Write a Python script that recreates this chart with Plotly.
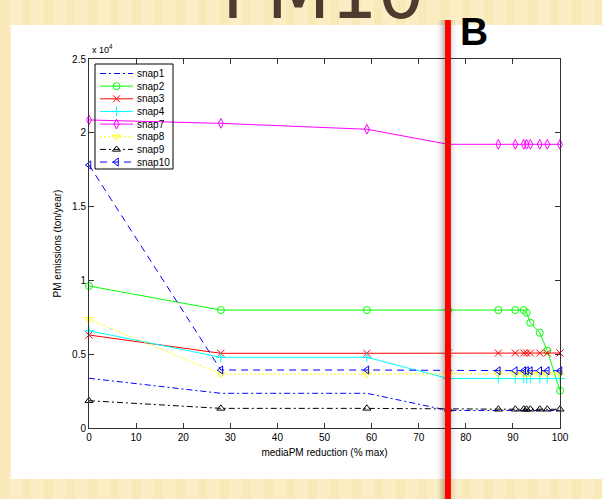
import plotly.graph_objects as go

# Scenario positions on the reduction axis (% of max)
reduction = [0, 28, 59, 76.3, 86.9, 90.5, 92.3, 92.9, 93.7, 95.7, 97.3, 100]

# PM emissions per SNAP sector (ton/year)
snap1 = [3370, 2350, 2350, 1190, 1190, 1190, 1190, 1190, 1190, 1190, 1190, 1190]
snap2 = [9620, 7990, 7990, 7990, 7990, 7990, 7990, 7810, 7130, 6450, 5240, 2530]
snap3 = [6300, 5060, 5060, 5080, 5080, 5080, 5080, 5080, 5080, 5080, 5080, 5080]
snap4 = [6590, 4790, 4790, 3350, 3350, 3350, 3350, 3350, 3350, 3350, 3350, 3350]
snap7 = [20870, 20640, 20240, 19220, 19220, 19220, 19220, 19220, 19220, 19220, 19220, 19220]
snap8 = [7360, 3660, 3660, 3660, 3660, 3660, 3660, 3660, 3660, 3660, 3660, 3660]
snap9 = [1850, 1330, 1330, 1270, 1270, 1270, 1270, 1270, 1270, 1270, 1270, 1270]
snap10 = [17820, 3930, 3930, 3880, 3880, 3880, 3880, 3880, 3880, 3880, 3880, 3880]

series_names = ["snap1", "snap2", "snap3", "snap4", "snap7", "snap8", "snap9", "snap10"]
series_values = [snap1, snap2, snap3, snap4, snap7, snap8, snap9, snap10]

x_ticks = [0, 10, 20, 30, 40, 50, 60, 70, 80, 90, 100]
y_ticks = [0, 5000, 10000, 15000, 20000, 25000]
y_tick_labels = ["0", "0.5", "1", "1.5", "2", "2.5"]

marked_reduction = 76.2

# line/marker style for each sector
styles = {
    "snap1": dict(color="#0000FF", dash="6px,3px,2px,3px", symbol=None),
    "snap2": dict(color="#00FF00", dash="solid", symbol="circle-open"),
    "snap3": dict(color="#FF0000", dash="solid", symbol="x-thin-open"),
    "snap4": dict(color="#00FFFF", dash="solid", symbol="cross-thin-open"),
    "snap7": dict(color="#FF00FF", dash="solid", symbol="diamond-tall-open"),
    "snap8": dict(color="#FFFF00", dash="2px,2px", symbol="triangle-down-open"),
    "snap9": dict(color="#000000", dash="6px,3px,2px,3px", symbol="triangle-up-open"),
    "snap10": dict(color="#0000FF", dash="7px,5px", symbol="triangle-left-open"),
}

W, H = 602, 499
L, R, T, B = 89, 42, 59, 71
pw, ph = W - L - R, H - T - B


def fx(px):
    return (px - L) / pw


def fy(py):
    return (H - B - py) / ph


FONT = "Liberation Sans, Arial, sans-serif"

fig = go.Figure()

for name, vals in zip(series_names, series_values):
    st = styles[name]
    mode = "lines+markers" if st["symbol"] else "lines"
    marker = dict(symbol=st["symbol"], size=7, color=st["color"],
                  line=dict(color=st["color"], width=1)) if st["symbol"] else None
    fig.add_trace(go.Scatter(
        x=reduction, y=vals, mode=mode, name=name,
        line=dict(color=st["color"], width=1, dash=st["dash"]),
        marker=marker, cliponaxis=False, showlegend=False,
    ))

# hand-built legend in an overlay 0..1 coordinate frame
shapes = []
annotations = []
row0, row_gap = 73.5, 12.65
for i, name in enumerate(series_names):
    st = styles[name]
    yy = fy(row0 + i * row_gap)
    fig.add_trace(go.Scatter(
        x=[fx(100), fx(116.5), fx(133)], y=[yy, yy, yy],
        xaxis="x2", yaxis="y2",
        mode="lines+markers" if st["symbol"] else "lines",
        line=dict(color=st["color"], width=1, dash=st["dash"]),
        marker=dict(symbol=st["symbol"], size=7, color=st["color"],
                    line=dict(color=st["color"], width=1),
                    opacity=[0, 1, 0]) if st["symbol"] else None,
        cliponaxis=False, showlegend=False, hoverinfo="skip",
    ))
    annotations.append(dict(
        x=fx(135), y=yy, xref="paper", yref="paper", text=name,
        showarrow=False, xanchor="left", yanchor="middle",
        font=dict(family=FONT, size=10, color="#000000"),
    ))

# faint vertical stripes of the slide background
for sx in range(0, 610, 22):
    shapes.append(dict(type="rect", xref="paper", yref="paper",
                       x0=fx(sx), x1=fx(sx + 9), y0=fy(H), y1=fy(0),
                       fillcolor="#F3DFA6", opacity=0.35, line=dict(width=0),
                       layer="below"))
# white panel behind the axes
shapes.append(dict(type="rect", xref="paper", yref="paper",
                   x0=fx(11), x1=fx(605), y0=fy(479), y1=fy(25),
                   fillcolor="white", line=dict(width=0), layer="below"))

# legend frame
shapes.append(dict(type="rect", xref="paper", yref="paper",
                   x0=fx(95), x1=fx(173), y0=fy(169), y1=fy(64),
                   fillcolor="rgba(0,0,0,0)", line=dict(color="#000000", width=1),
                   layer="above"))

# marker line with soft shadow
for w, op in [(18, 0.05), (12, 0.07), (8, 0.09)]:
    shapes.append(dict(type="line", xref="x", yref="paper",
                       x0=marked_reduction - 0.3, x1=marked_reduction - 0.3,
                       y0=fy(H + 5), y1=fy(20),
                       line=dict(color=f"rgba(0,0,0,{op})", width=w), layer="above"))
shapes.append(dict(type="line", xref="x", yref="paper",
                   x0=marked_reduction, x1=marked_reduction,
                   y0=fy(H + 5), y1=fy(20),
                   line=dict(color="#FF0000", width=6), layer="above"))

# slide title and panel letter
annotations.append(dict(
    x=fx(323), y=fy(37), xref="paper", yref="paper", text="PM10",
    showarrow=False, xanchor="center", yanchor="bottom",
    font=dict(family="DejaVu Sans, sans-serif", size=74, color="#4D3B2F"),
))
annotations.append(dict(
    x=fx(474), y=fy(32), xref="paper", yref="paper", text="<b>B</b>",
    showarrow=False, xanchor="center", yanchor="middle",
    font=dict(family=FONT, size=39, color="#000000"),
))
# axis exponent
annotations.append(dict(
    x=fx(90), y=fy(49), xref="paper", yref="paper", text="x 10<sup>4</sup>",
    showarrow=False, xanchor="left", yanchor="middle",
    font=dict(family=FONT, size=9, color="#000000"),
))

axis_common = dict(
    showgrid=False, zeroline=False, showline=True, linecolor="#333333",
    linewidth=1, mirror="allticks", ticks="inside", ticklen=5,
    tickcolor="#333333", tickfont=dict(family=FONT, size=10, color="#000000"),
)

fig.update_layout(
    width=W, height=H,
    margin=dict(l=L, r=R, t=T, b=B, pad=0),
    paper_bgcolor="#FCEEC4",
    plot_bgcolor="rgba(0,0,0,0)",
    showlegend=False,
    xaxis=dict(range=[0, 100], tickvals=x_ticks, **axis_common,
               title=dict(text="mediaPM reduction (% max)", standoff=6,
                          font=dict(family=FONT, size=10, color="#000000"))),
    yaxis=dict(range=[0, 25000], tickvals=y_ticks, ticktext=y_tick_labels,
               **axis_common,
               title=dict(text="PM emissions (ton/year)", standoff=8,
                          font=dict(family=FONT, size=10, color="#000000"))),
    xaxis2=dict(range=[0, 1], overlaying="x", visible=False),
    yaxis2=dict(range=[0, 1], overlaying="y", visible=False),
    shapes=shapes,
    annotations=annotations,
)

fig.write_html("out.html")
